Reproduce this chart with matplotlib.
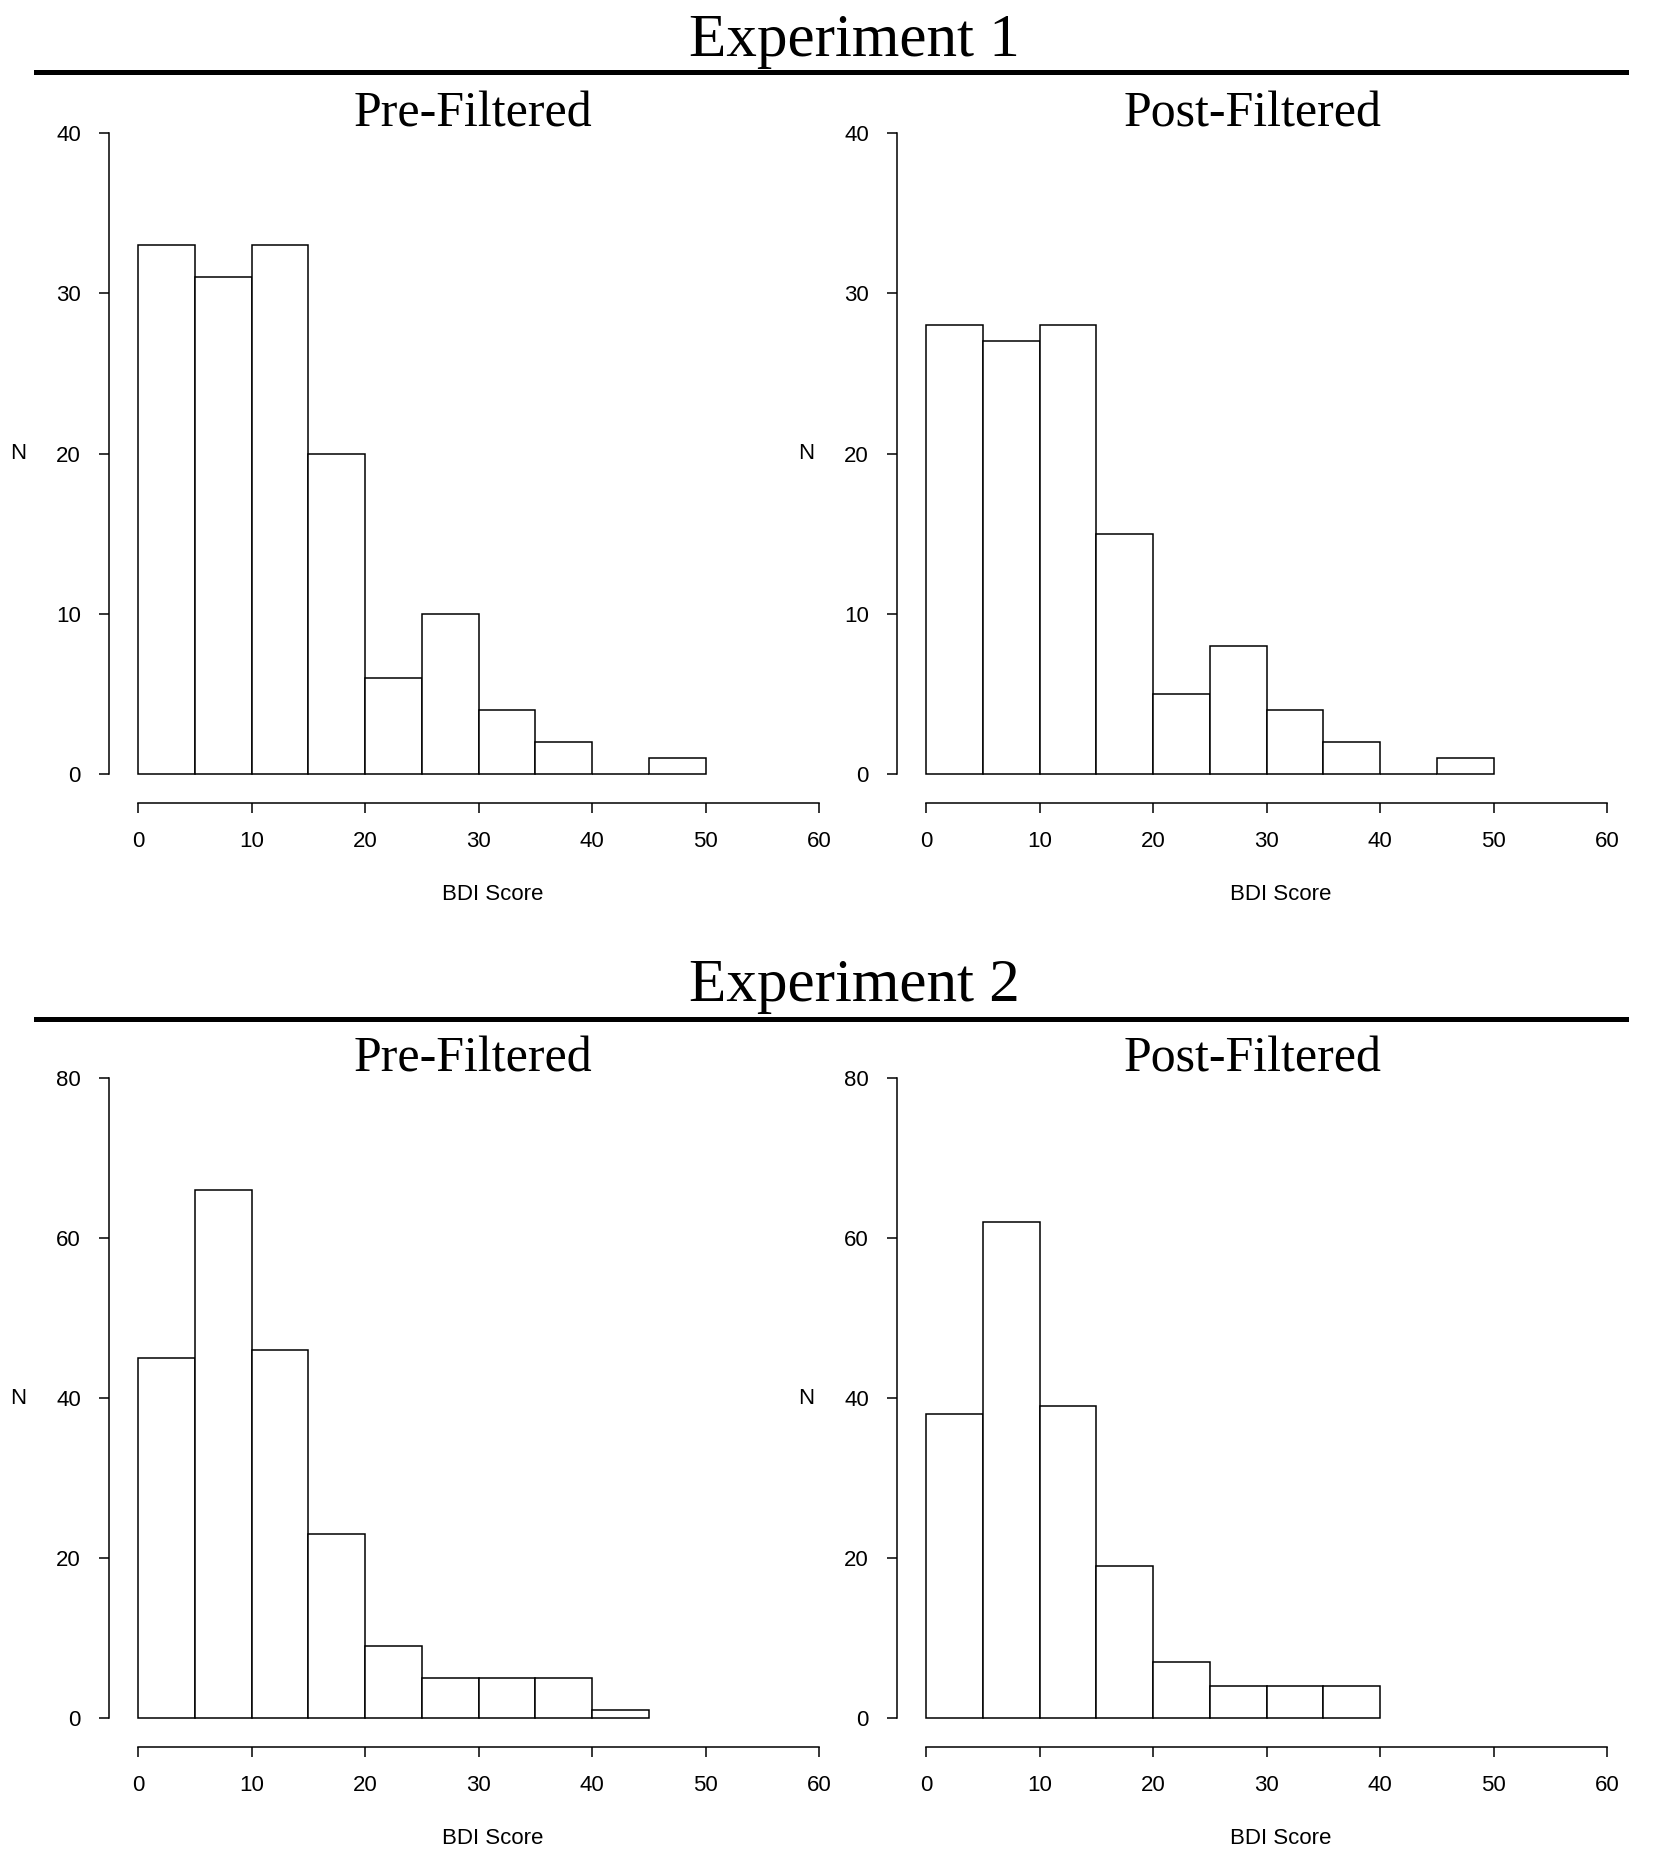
import numpy as np
import matplotlib.pyplot as plt
from matplotlib.lines import Line2D

# Дані гістограм (кількість учасників у кожному інтервалі BDI по 5 балів)
bin_width = 5
exp1_pre = [33, 31, 33, 20, 6, 10, 4, 2, 0, 1]
exp1_post = [28, 27, 28, 15, 5, 8, 4, 2, 0, 1]
exp2_pre = [45, 66, 46, 23, 9, 5, 5, 5, 1]
exp2_post = [38, 62, 39, 19, 7, 4, 4, 4]
x_ticks = [0, 10, 20, 30, 40, 50, 60]
exp1_yticks = [0, 10, 20, 30, 40]
exp2_yticks = [0, 20, 40, 60, 80]

W, H = 1654, 1859
fig = plt.figure(figsize=(W / 100, H / 100), dpi=100)

serif = 'Liberation Serif'
sans = 'Liberation Sans'


def add_panel(counts, yticks, x0, y_top, y_bottom, title, title_dx):
    x1 = x0 + 681
    ax = fig.add_axes([x0 / W, 1 - y_bottom / H, (x1 - x0) / W, (y_bottom - y_top) / H])
    edges = np.arange(len(counts)) * bin_width
    ax.bar(edges, counts, width=bin_width, align='edge', facecolor='white',
           edgecolor='black', linewidth=1.1, clip_on=False)
    ax.set_xlim(0, 60)
    ax.set_ylim(0, yticks[-1])
    ax.set_xticks(x_ticks)
    ax.set_yticks(yticks)
    ax.patch.set_visible(False)
    for s in ['top', 'right']:
        ax.spines[s].set_visible(False)
    for s in ['left', 'bottom']:
        ax.spines[s].set_position(('outward', 20.9))
        ax.spines[s].set_linewidth(1.1)
    ax.spines['bottom'].set_bounds(0, 60)
    ax.spines['left'].set_bounds(0, yticks[-1])
    ax.tick_params(length=7.2, width=1.1, pad=13, labelsize=16)
    for lab in ax.get_xticklabels() + ax.get_yticklabels():
        lab.set_fontfamily(sans)
    # Підписи осей
    mid_x = (x0 + x1) / 2
    fig.text((mid_x + 14) / W, 1 - (y_bottom + 121) / H, 'BDI Score',
             ha='center', va='center', fontsize=16, family=sans)
    fig.text((x0 - 120) / W, 1 - (y_top + y_bottom) / 2 / H, 'N',
             ha='center', va='center', fontsize=16, family=sans)
    fig.text((mid_x + title_dx) / W, 1 - (y_top - 19) / H, title,
             ha='center', va='center', fontsize=36, family=serif)
    return ax


# Експеримент 1
fig.text(854 / W, 1 - 41 / H, 'Experiment 1', ha='center', va='center', fontsize=44, family=serif)
fig.add_artist(Line2D([36 / W, 1626 / W], [1 - 72 / H] * 2, lw=3.6, color='black'))
add_panel(exp1_pre, exp1_yticks, 138, 133, 774, 'Pre-Filtered', -6)
add_panel(exp1_post, exp1_yticks, 926, 133, 774, 'Post-Filtered', -14)

# Експеримент 2
fig.text(854 / W, 1 - 986 / H, 'Experiment 2', ha='center', va='center', fontsize=44, family=serif)
fig.add_artist(Line2D([36 / W, 1626 / W], [1 - 1019 / H] * 2, lw=3.6, color='black'))
add_panel(exp2_pre, exp2_yticks, 138, 1078, 1718, 'Pre-Filtered', -6)
add_panel(exp2_post, exp2_yticks, 926, 1078, 1718, 'Post-Filtered', -14)

plt.savefig('out.png', dpi=100)
